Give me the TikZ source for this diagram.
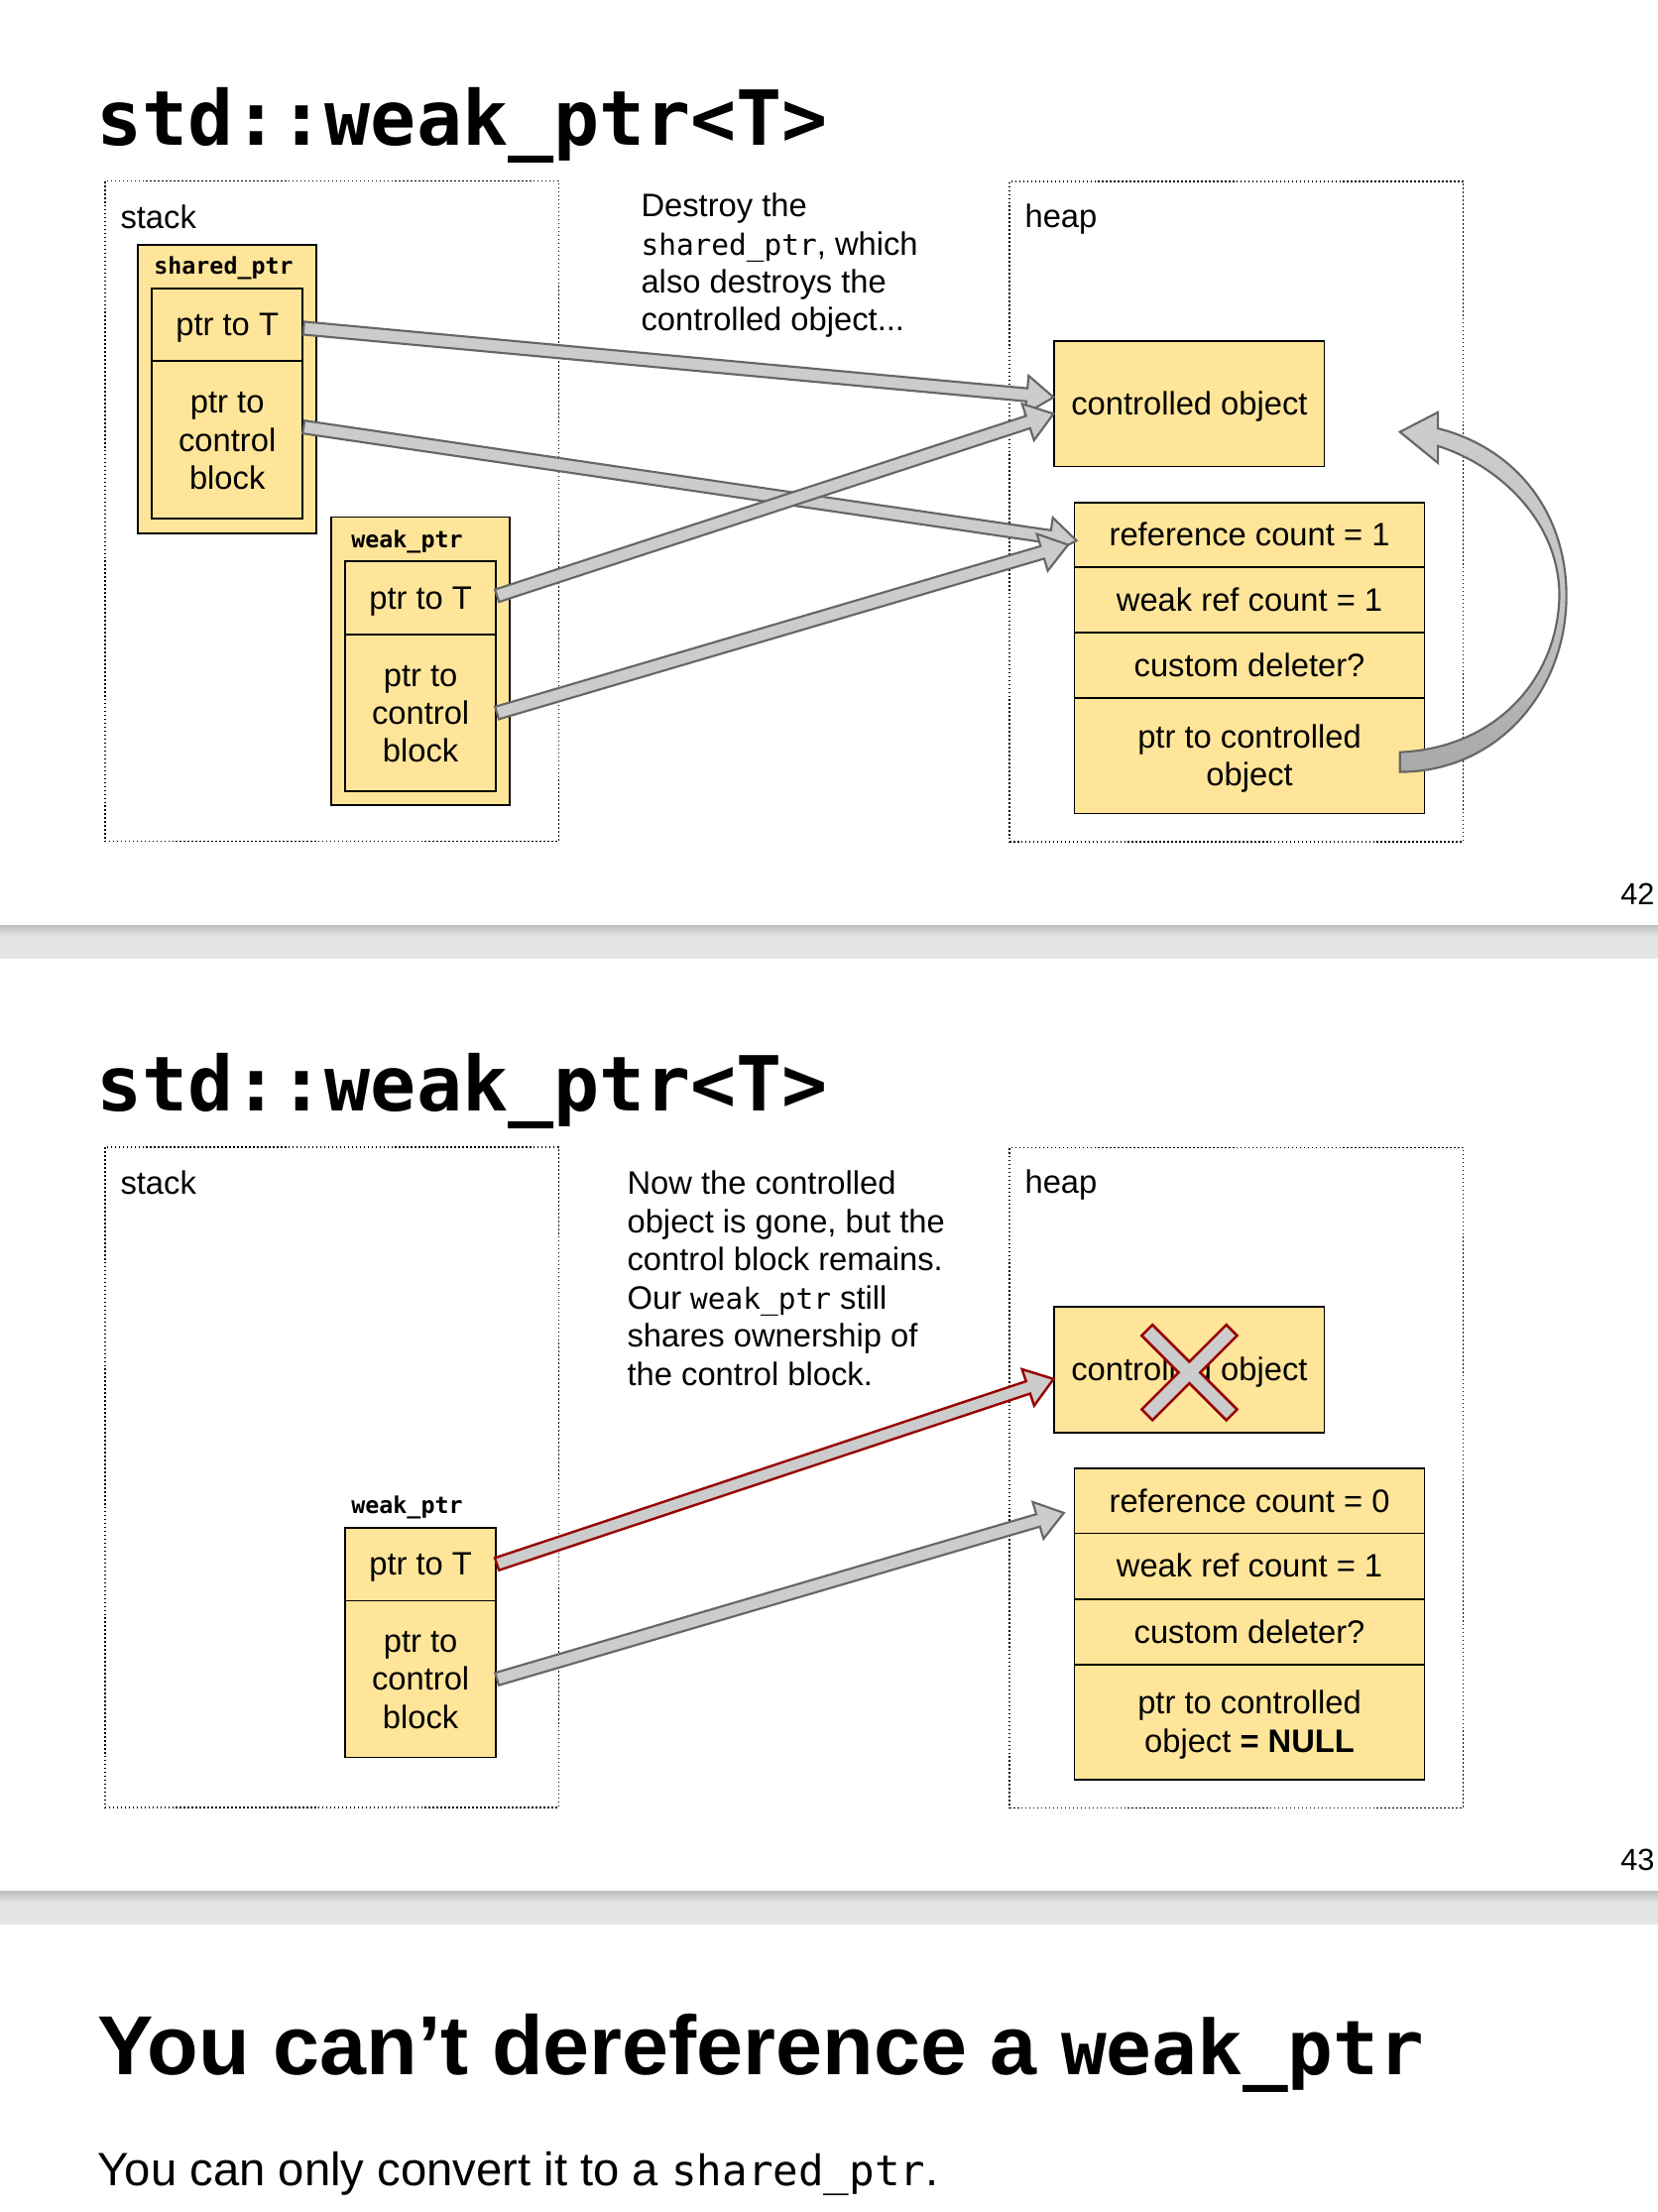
\documentclass[tikz,border=0pt]{standalone}
\usepackage{fontspec}
\setmainfont{Liberation Sans}
\setmonofont[Scale=0.9]{DejaVu Sans Mono}
\usepackage{tikz}
\usetikzlibrary{calc, positioning}

\definecolor{cellyellow}{HTML}{FFE599}
\definecolor{darkred}{HTML}{990000}
\definecolor{arrowgray}{HTML}{CCCCCC}
\definecolor{edgegray}{HTML}{666666}

\newcommand{\bodysize}{\fontsize{11.5}{13.5}\selectfont}
% line box like the slides use: ascent and descent of the font
\newcommand{\lnstrut}{\rule[-2.44pt]{0pt}{12.85pt}}

\tikzset{
  region/.style={
    draw=black, line width=0.55pt, dash pattern=on 0.55pt off 0.85pt,
    anchor=north west, inner sep=0pt, minimum width=160.8pt, minimum height=234pt
  },
  cell/.style={
    draw=black, line width=0.6pt, fill=cellyellow,
    anchor=north west, inner sep=0pt, align=center, font=\bodysize
  },
  ptrname/.style={anchor=base, inner sep=0pt, font=\fontsize{9.1}{10}\selectfont\ttfamily\bfseries},
  tag/.style={anchor=base west, inner sep=0pt, font=\bodysize},
  note/.style={anchor=north west, inner sep=0pt, align=left, font=\bodysize},
  fatarr/.style={draw=edgegray, fill=arrowgray, line width=0.75pt, line join=miter},
  deadarr/.style={draw=darkred, line width=0.85pt},
  xmark/.style={draw=darkred, fill=arrowgray, line width=0.9pt, line join=miter},
}

% thick outlined arrow from #2 to #3
\newcommand{\fatarrow}[3][]{%
  \coordinate (fa-s) at (#2);
  \coordinate (fa-e) at (#3);
  \coordinate (fa-m) at ($(fa-e)!9.5pt!(fa-s)$);
  \draw[fatarr, #1] ($(fa-s)!2.3pt!90:(fa-e)$) -- ($(fa-m)!2.3pt!90:(fa-e)$)
    -- ($(fa-m)!6.8pt!90:(fa-e)$) -- (fa-e) -- ($(fa-m)!6.8pt!-90:(fa-e)$)
    -- ($(fa-m)!2.3pt!-90:(fa-e)$) -- ($(fa-s)!2.3pt!-90:(fa-e)$) -- cycle;
}

\begin{document}
\begin{tikzpicture}[x=0.5pt, y=-0.5pt,
    title/.style={anchor=base west, inner sep=0pt, font=\fontsize{29.9}{32}\selectfont\ttfamily\bfseries},
    pagenum/.style={anchor=base east, inner sep=0pt, font=\fontsize{10.8}{12}\selectfont}
  ]
  \fill[white] (0,0) rectangle (1175,1568);
  \useasboundingbox (0,0) rectangle (1175,1568);

  % ---------- slide 42 ----------
  \node[title] (title42) at (68,103) {std::weak\_ptr<T>};
  \node[region] (stack42) at (73.8,127.7) {};
  \node[region] (heap42) at (714.9,128.1) {};
  \node[tag] (stacktag42) at (85,162) {stack};
  \node[tag] (heaptag42) at (726,161) {heap};

  % shared_ptr
  \node[cell, minimum width=63.25pt, minimum height=102.4pt] (sp) at (97.2,172.8) {};
  \node[ptrname] (spname) at (158.5,194.5) {shared\_ptr};
  \node[cell, minimum width=53.5pt, minimum height=25.8pt] (spt) at (107,203.8) {\lnstrut ptr to T};
  \node[cell, minimum width=53.5pt, minimum height=55.9pt] (spc) at (107,255.4)
    {\lnstrut ptr to\\\lnstrut control\\\lnstrut block};

  % weak_ptr
  \node[cell, minimum width=63.2pt, minimum height=102pt] (wp) at (234.3,366) {};
  \node[ptrname] (wpname) at (288.5,388.3) {weak\_ptr};
  \node[cell, minimum width=53.5pt, minimum height=25.9pt] (wpt) at (244,397.4) {\lnstrut ptr to T};
  \node[cell, minimum width=53.5pt, minimum height=55.6pt] (wpc) at (244,449.2)
    {\lnstrut ptr to\\\lnstrut control\\\lnstrut block};

  \node[note] (note42) at (454,136.6)
    {Destroy the\\\texttt{shared\_ptr}, which\\also destroys the\\controlled object...};

  % heap objects
  \node[cell, minimum width=95.7pt, minimum height=44.5pt] (obj) at (746.7,241) {\lnstrut controlled object};
  \node[cell, minimum width=124pt, minimum height=23pt] (rc) at (761,355.6) {\lnstrut reference count = 1};
  \node[cell, minimum width=124pt, minimum height=23.2pt] (wc) at (761,401.6) {\lnstrut weak ref count = 1};
  \node[cell, minimum width=124pt, minimum height=23.2pt] (cd) at (761,448) {\lnstrut custom deleter?};
  \node[cell, minimum width=124pt, minimum height=40.8pt] (pc) at (761,494.4)
    {\lnstrut ptr to controlled\\\lnstrut object};

  % pointers
  \fatarrow{[yshift=-1.2pt]spt.east}{[yshift=2.25pt]obj.west}
  \fatarrow{[yshift=4.6pt]spc.east}{[xshift=1pt, yshift=-2pt]rc.west}
  \fatarrow{[yshift=0.8pt]wpt.east}{[yshift=-3.6pt]obj.west}
  \fatarrow{wpc.east}{[xshift=-2pt, yshift=-3.5pt]rc.west}

  % curved arrow back to the object
  \begin{scope}[shift={(pc.east)}]
    \draw[fatarr, top color=gray!40, bottom color=gray!68, middle color=gray!45]
      (-18,-2.6) .. controls (51,-5.6) and (94,-55.6) .. (95,-113.6)
      .. controls (95,-165.6) and (53,-205.6) .. (9,-219.6)
      -- (9,-207.6) -- (-18,-229.6) -- (9,-243.6) -- (9,-232.1)
      .. controls (66,-217.6) and (100,-170.6) .. (100,-113.6)
      .. controls (100,-45.6) and (51,11.4) .. (-18,11.4) -- cycle;
  \end{scope}

  \node[pagenum] (page42) at (1173,641) {42};
  \fill[gray!20] (0,656) rectangle (1175,679.5);
  \shade[top color=gray!50, bottom color=gray!20] (0,656) rectangle (1175,664);

  % ---------- slide 43 ----------
  \begin{scope}[shift={(0,684.8)}]
    \node[title] (title43) at (68,103) {std::weak\_ptr<T>};
    \node[region] (stack43) at (73.8,127.7) {};
    \node[region] (heap43) at (714.9,128.1) {};
    \node[tag] (stacktag43) at (85,162) {stack};
    \node[tag] (heaptag43) at (726,161) {heap};

    \node[ptrname] (wpname2) at (288.5,388.3) {weak\_ptr};
    \node[cell, minimum width=53.5pt, minimum height=25.9pt] (wpt2) at (244,397.4) {\lnstrut ptr to T};
    \node[cell, minimum width=53.5pt, minimum height=55.6pt] (wpc2) at (244,449.2)
      {\lnstrut ptr to\\\lnstrut control\\\lnstrut block};

    \node[note] (note43) at (444.2,145)
      {Now the controlled\\object is gone, but the\\control block remains.\\Our \texttt{weak\_ptr} still\\shares ownership of\\the control block.};

    \node[cell, minimum width=95.7pt, minimum height=44.5pt] (obj2) at (746.7,241) {\lnstrut controlled object};
    \node[cell, minimum width=124pt, minimum height=23pt] (rc2) at (761,355.6) {\lnstrut reference count = 0};
    \node[cell, minimum width=124pt, minimum height=23.2pt] (wc2) at (761,401.6) {\lnstrut weak ref count = 1};
    \node[cell, minimum width=124pt, minimum height=23.2pt] (cd2) at (761,448) {\lnstrut custom deleter?};
    \node[cell, minimum width=124pt, minimum height=40.8pt] (pc2) at (761,494.4)
      {\lnstrut ptr to controlled\\\lnstrut object \textbf{= NULL}};

    \node[pagenum] (page43) at (1173,641) {43};
  \end{scope}

  \fatarrow[deadarr]{wpt2.east}{[yshift=-3.3pt]obj2.west}
  \fatarrow{wpc2.east}{[xshift=-3.5pt, yshift=-4.2pt]rc2.west}

  % the object is gone
  \begin{scope}[shift={(obj2.center)}, yshift=-1pt, rotate=45]
    \draw[xmark] (42.4,-5.4) -- (42.4,5.4) -- (5.4,5.4) -- (5.4,42.4) -- (-5.4,42.4)
      -- (-5.4,5.4) -- (-42.4,5.4) -- (-42.4,-5.4) -- (-5.4,-5.4) -- (-5.4,-42.4)
      -- (5.4,-42.4) -- (5.4,-5.4) -- cycle;
  \end{scope}

  \fill[gray!20] (0,1340.8) rectangle (1175,1364.3);
  \shade[top color=gray!50, bottom color=gray!20] (0,1340.8) rectangle (1175,1348.8);

  % ---------- slide 44 ----------
  \node[anchor=base west, inner sep=0pt, font=\fontsize{29.7}{32}\selectfont\bfseries] (title44)
    at (69,1470.6) {You can’t dereference a \texttt{weak\_ptr}};
  \node[anchor=base west, inner sep=0pt, font=\fontsize{16.6}{20}\selectfont] (sub44)
    at (69,1549.6) {You can only convert it to a \texttt{shared\_ptr}.};
\end{tikzpicture}
\end{document}
